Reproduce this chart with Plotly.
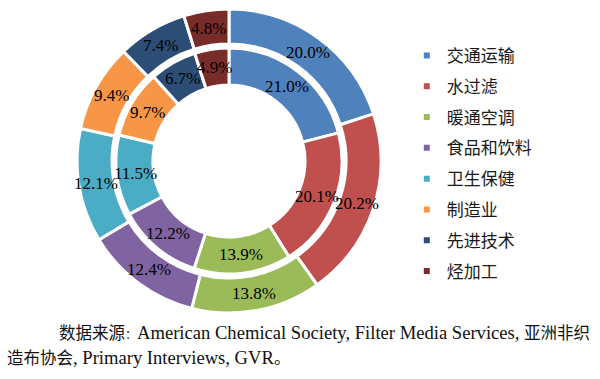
import math
import plotly.graph_objects as go

categories = ["交通运输", "水过滤", "暖通空调", "食品和饮料", "卫生保健", "制造业", "先进技术", "烃加工"]
outer_values = [20.0, 20.2, 13.8, 12.4, 12.1, 9.4, 7.4, 4.8]
inner_values = [21.0, 20.1, 13.9, 12.2, 11.5, 9.7, 6.7, 4.9]
colors = ["#4F81BD", "#C0504D", "#9BBB59", "#8064A2", "#4BACC6", "#F79646", "#2C4D75", "#772C2A"]

W, H = 600, 379
cx, cy = 229, 161
r_out, r_out_in = 152, 117
r_in, r_in_in = 113, 76


def dom(r):
    return dict(x=[(cx - r) / W, (cx + r) / W], y=[(H - cy - r) / H, (H - cy + r) / H])


def slice_labels(values, r_mid):
    total = sum(values)
    cum = 0.0
    anns = []
    for v in values:
        theta = 2 * math.pi * (cum + v / 2) / total
        cum += v
        anns.append(dict(
            text=f"{v:.1f}%", xref="paper", yref="paper",
            x=(cx + r_mid * math.sin(theta)) / W, y=(H - cy + r_mid * math.cos(theta)) / H,
            xanchor="center", yanchor="middle", showarrow=False,
            font=dict(family="Liberation Serif, Times New Roman, serif", size=17, color="black"),
        ))
    return anns


fig = go.Figure()
for vals, r, rh in [(outer_values, r_out, r_out_in), (inner_values, r_in, r_in_in)]:
    fig.add_trace(go.Pie(
        labels=categories, values=vals, sort=False, direction="clockwise", rotation=0,
        hole=rh / r, domain=dom(r),
        marker=dict(colors=colors, line=dict(color="white", width=3)),
        textinfo="none", showlegend=False, hoverinfo="label+value",
    ))
for c, col in zip(categories, colors):
    fig.add_trace(go.Scatter(
        x=[None], y=[None], mode="markers", name=c, legendgroup=c,
        marker=dict(symbol="square", size=6, color=col), showlegend=True,
    ))


def cjk(s, size=16.5):
    return f'<span style="font-size:{size}px">{s}</span>'


note_font = dict(family="Liberation Serif, Noto Sans CJK SC", size=18.6, color="#111111")
annotations = slice_labels(outer_values, (r_out + r_out_in) / 2) + slice_labels(inner_values, (r_in + r_in_in) / 2)
annotations += [
    dict(text=cjk("数据来源") + cjk("：", 12) + "American Chemical Society, Filter Media Services, " + cjk("亚洲非织"),
         x=57 / W, y=1 - 332 / H, xref="paper", yref="paper", xanchor="left", yanchor="middle",
         showarrow=False, font=note_font),
    dict(text=cjk("造布协会") + ", Primary Interviews, GVR" + cjk("。"),
         x=5 / W, y=1 - 357 / H, xref="paper", yref="paper", xanchor="left", yanchor="middle",
         showarrow=False, font=note_font),
]

fig.update_layout(
    width=W, height=H, margin=dict(l=0, r=0, t=0, b=0),
    paper_bgcolor="white", plot_bgcolor="white",
    xaxis=dict(visible=False), yaxis=dict(visible=False),
    legend=dict(x=0.678, y=0.9, xanchor="left", yanchor="top",
                font=dict(family="Noto Sans CJK SC", size=17, color="#1a1a1a"),
                traceorder="grouped", tracegroupgap=5.7, itemwidth=30),
    annotations=annotations,
)
fig.write_html("out.html", config={"displayModeBar": False},
               post_script="document.body.style.margin='0';")
